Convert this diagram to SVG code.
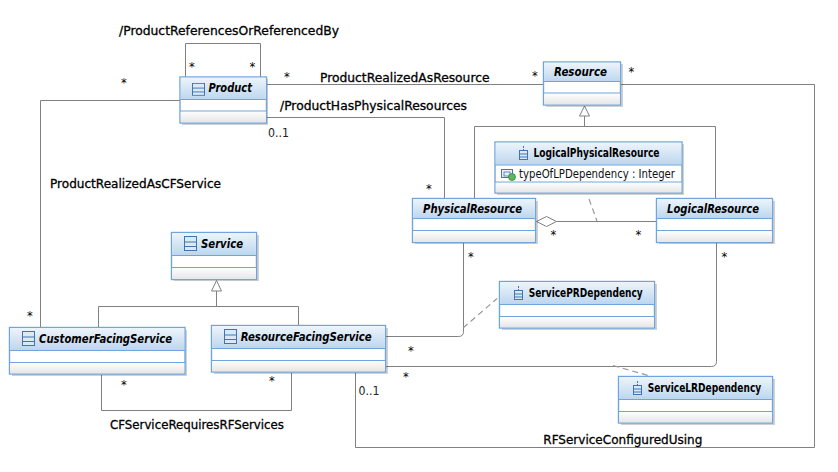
<svg xmlns="http://www.w3.org/2000/svg" width="838" height="472" viewBox="0 0 838 472">
<style>
text{font-family:"DejaVu Sans","Liberation Sans",sans-serif;fill:#000}
.lbl{font-size:12px;stroke:#000;stroke-width:.3}
.m{font-size:11.5px}
.r{font-size:11.5px;fill:#222}
.t{font-size:11.5px;font-weight:bold}
.i{font-style:italic}
.a{font-size:11.5px;fill:#111}
.box{fill:#fff;stroke:#6fa5dc;stroke-width:1.4}
.sh{fill:#000;opacity:.18}
.h{fill:url(#hd)}
.f{fill:url(#ft)}
.d{stroke:#6fa5dc;stroke-width:1.2;fill:none}
.c{fill:none;stroke:#808080;stroke-width:1}
.dash{fill:none;stroke:#999;stroke-width:1.2;stroke-dasharray:6 4}
.ic{fill:#dbe8f6;stroke:#3e76b4;stroke-width:1}
.tri{fill:#fff;stroke:#808080;stroke-width:1}
</style>
<defs>
<linearGradient id="hd" x1="0" y1="0" x2="0" y2="1"><stop offset="0" stop-color="#edf4fb"/><stop offset="1" stop-color="#bcd6ee"/></linearGradient>
<linearGradient id="ft" x1="0" y1="0" x2="0" y2="1"><stop offset="0" stop-color="#fff"/><stop offset="1" stop-color="#e6e6e6"/></linearGradient>
<g id="ci"><rect class="ic" x="0.5" y="0.5" width="12" height="14"/><path d="M.5 6H12.500M.5 10.500H12.500" stroke="#3e76b4" fill="none"/></g>
<g id="di"><path d="M4.500 0V4" stroke="#3e76b4" stroke-dasharray="2 1"/><rect class="ic" x="0.5" y="4.500" width="8" height="9"/><path d="M.5 8H8.500M.5 11H8.500" stroke="#3e76b4" fill="none"/></g>
</defs>
<g id="connectors">
<path class="c" d="M185.500 77V43.500H260.500V77"/>
<path class="c" d="M180 100.500H40.500V327"/>
<path class="c" d="M267 84.500H543.500"/>
<path class="c" d="M621 84.500H814.500V447.500H355.500V373"/>
<path class="c" d="M267 117.500H444.500V198"/>
<path class="c" d="M584.500 116V126.500M474.500 198V126.500H715.500V198"/>
<path class="tri" d="M584.500 106L579.500 116H589.500Z"/>
<path class="c" d="M556.500 221.500H656"/>
<path class="tri" d="M536.500 221.500L546.500 216.500L556.500 221.500L546.500 226.500Z"/>
<path class="dash" d="M589 199L597 221"/>
<path class="c" d="M463.500 243V331.500Q463.500 336.500 458.500 336.500H386"/>
<path class="c" d="M716.500 243V361.500Q716.500 366.500 711.500 366.500H386"/>
<path class="dash" d="M463 328L497 298.500"/>
<path class="dash" d="M613 365.500L650 376"/>
<path class="c" d="M101.500 375V410.500H291.500V373"/>
<path class="c" d="M216.500 291V306.500M98.500 327V306.500H298.500V325"/>
<path class="tri" d="M216.500 280.500L211.500 291H221.500Z"/>
</g>
<g id="Product">
<rect class="sh" x="182" y="79" width="86" height="46"/><rect class="box" x="180" y="77" width="86.500" height="46"/><rect class="h" x="180.700" y="77.700" width="85" height="22"/><rect class="f" x="180.700" y="111" width="85" height="11.300"/><path class="d" d="M180 99.500H266.500M180 111H266.500"/>
<use href="#ci" transform="translate(192 83) scale(1 .85)"/><text class="t i" x="208.500" y="91.500" textLength="43.500" lengthAdjust="spacingAndGlyphs">Product</text>
</g>
<g id="Resource">
<rect class="sh" x="546" y="64" width="77" height="43"/><rect class="box" x="543.500" y="62" width="77" height="43"/><rect class="h" x="544.200" y="62.700" width="75.600" height="19"/><rect class="f" x="544.200" y="93" width="75.600" height="11.300"/><path class="d" d="M543.500 81.500H620.500M543.500 93H620.500"/>
<text class="t i" x="554" y="76" textLength="53" lengthAdjust="spacingAndGlyphs">Resource</text>
</g>
<g id="LogicalPhysicalResource">
<rect class="sh" x="497" y="144" width="187" height="51"/><rect class="box" x="495" y="142" width="187" height="51"/><rect class="h" x="495.700" y="142.700" width="185.600" height="22"/><rect class="f" x="495.700" y="182" width="185.600" height="10.300"/><path class="d" d="M495 165H682M495 182H682"/>
<use href="#di" x="519" y="146"/><text class="t" x="533.500" y="157" textLength="126" lengthAdjust="spacingAndGlyphs">LogicalPhysicalResource</text>
<rect x="501.500" y="169.500" width="11" height="8" fill="#e8f0f8" stroke="#3e76b4"/><rect x="504" y="172" width="6" height="4" fill="none" stroke="#3e76b4" stroke-width=".8"/><circle cx="512" cy="177" r="3.500" fill="#5cb85c" stroke="#2d8a3e" stroke-width=".8"/>
<text class="a" x="519" y="177.500" textLength="156" lengthAdjust="spacingAndGlyphs">typeOfLPDependency : Integer</text>
</g>
<g id="PhysicalResource">
<rect class="sh" x="415" y="201" width="123" height="43"/><rect class="box" x="412.500" y="198.500" width="123" height="44"/><rect class="h" x="413.200" y="199.200" width="121.600" height="19"/><rect class="f" x="413.200" y="230.500" width="121.600" height="11.300"/><path class="d" d="M412.500 218.500H535.500M412.500 230.500H535.500"/>
<text class="t i" x="423" y="213" textLength="99" lengthAdjust="spacingAndGlyphs">PhysicalResource</text>
</g>
<g id="LogicalResource">
<rect class="sh" x="659" y="201" width="116" height="43"/><rect class="box" x="656.500" y="198.500" width="116" height="44"/><rect class="h" x="657.200" y="199.200" width="114.600" height="19"/><rect class="f" x="657.200" y="230.500" width="114.600" height="11.300"/><path class="d" d="M656.500 218.500H772.500M656.500 230.500H772.500"/>
<text class="t i" x="667" y="213" textLength="92" lengthAdjust="spacingAndGlyphs">LogicalResource</text>
</g>
<g id="Service">
<rect class="sh" x="174" y="235" width="85" height="46"/><rect class="box" x="171.500" y="232.500" width="85" height="47"/><rect class="h" x="172.200" y="233.200" width="83.600" height="22"/><rect class="f" x="172.200" y="267.500" width="83.600" height="11.300"/><path class="d" d="M171.500 255.500H256.500M171.500 267.500H256.500"/>
<use href="#ci" x="184" y="236"/><text class="t i" x="201" y="247.500" textLength="42" lengthAdjust="spacingAndGlyphs">Service</text>
</g>
<g id="CustomerFacingService">
<rect class="sh" x="12" y="330" width="175" height="46"/><rect class="box" x="9.500" y="327.500" width="175.500" height="46.500"/><rect class="h" x="10.200" y="328.200" width="174" height="22"/><rect class="f" x="10.200" y="362.500" width="174" height="10.800"/><path class="d" d="M9.500 350.500H185M9.500 362.500H185"/>
<use href="#ci" x="22" y="331"/><text class="t i" x="39" y="342.500" textLength="133" lengthAdjust="spacingAndGlyphs">CustomerFacingService</text>
</g>
<g id="ResourceFacingService">
<rect class="sh" x="214" y="328" width="174" height="46"/><rect class="box" x="211.500" y="325.500" width="174" height="46.500"/><rect class="h" x="212.200" y="326.200" width="172.600" height="22"/><rect class="f" x="212.200" y="360.500" width="172.600" height="10.800"/><path class="d" d="M211.500 348.500H385.500M211.500 360.500H385.500"/>
<use href="#ci" x="224" y="329"/><text class="t i" x="240.700" y="340.500" textLength="131" lengthAdjust="spacingAndGlyphs">ResourceFacingService</text>
</g>
<g id="ServicePRDependency">
<rect class="sh" x="502" y="284" width="155" height="46"/><rect class="box" x="499.500" y="281.500" width="155" height="46.500"/><rect class="h" x="500.200" y="282.200" width="153.600" height="22"/><rect class="f" x="500.200" y="316.500" width="153.600" height="10.800"/><path class="d" d="M499.500 304.500H654.500M499.500 316.500H654.500"/>
<use href="#di" x="514" y="286"/><text class="t" x="528.700" y="297" textLength="114" lengthAdjust="spacingAndGlyphs">ServicePRDependency</text>
</g>
<g id="ServiceLRDependency">
<rect class="sh" x="621" y="379" width="154" height="46"/><rect class="box" x="618.500" y="376.500" width="154" height="46.500"/><rect class="h" x="619.200" y="377.200" width="152.600" height="22"/><rect class="f" x="619.200" y="411.500" width="152.600" height="10.800"/><path class="d" d="M618.500 399.500H772.500M618.500 411.500H772.500"/>
<use href="#di" x="633" y="381"/><text class="t" x="647.700" y="392" textLength="113.500" lengthAdjust="spacingAndGlyphs">ServiceLRDependency</text>
</g>
<g id="labels">
<text class="lbl" x="119" y="35" textLength="220" lengthAdjust="spacingAndGlyphs">/ProductReferencesOrReferencedBy</text>
<text class="lbl" x="320" y="81.500" textLength="169.500" lengthAdjust="spacingAndGlyphs">ProductRealizedAsResource</text>
<text class="lbl" x="280" y="109.500" textLength="187" lengthAdjust="spacingAndGlyphs">/ProductHasPhysicalResources</text>
<text class="lbl" x="50" y="188" textLength="171" lengthAdjust="spacingAndGlyphs">ProductRealizedAsCFService</text>
<text class="lbl" x="110" y="429" textLength="174" lengthAdjust="spacingAndGlyphs">CFServiceRequiresRFServices</text>
<text class="lbl" x="543.300" y="443.500" textLength="159" lengthAdjust="spacingAndGlyphs">RFServiceConfiguredUsing</text>
<text class="m" x="189" y="71">*</text><text class="m" x="249.500" y="71">*</text>
<text class="m" x="121" y="87">*</text><text class="m" x="284" y="81">*</text>
<text class="m" x="532" y="80">*</text><text class="m" x="628.500" y="76">*</text>
<text class="m" x="426" y="193">*</text><text class="m" x="550.500" y="239">*</text><text class="m" x="635.500" y="239">*</text>
<text class="m" x="468" y="261">*</text><text class="m" x="721.500" y="261">*</text>
<text class="m" x="27" y="320">*</text><text class="m" x="121" y="389">*</text><text class="m" x="269" y="385">*</text>
<text class="m" x="408" y="355">*</text><text class="m" x="403" y="381">*</text>
<text class="r" x="268" y="137" textLength="21" lengthAdjust="spacingAndGlyphs">0..1</text><text class="r" x="358.500" y="395" textLength="21" lengthAdjust="spacingAndGlyphs">0..1</text>
</g>
</svg>
